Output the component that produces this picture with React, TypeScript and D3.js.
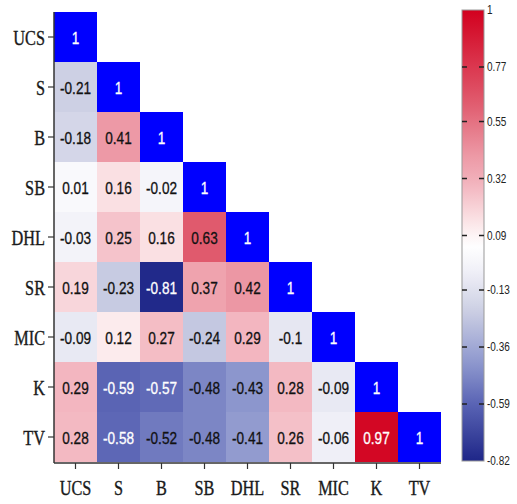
import React from "react";
import * as d3 from "d3";

const labels = ["UCS", "S", "B", "SB", "DHL", "SR", "MIC", "K", "TV"];
const rowUCS = [1];
const rowS = [-0.21, 1];
const rowB = [-0.18, 0.41, 1];
const rowSB = [0.01, 0.16, -0.02, 1];
const rowDHL = [-0.03, 0.25, 0.16, 0.63, 1];
const rowSR = [0.19, -0.23, -0.81, 0.37, 0.42, 1];
const rowMIC = [-0.09, 0.12, 0.27, -0.24, 0.29, -0.1, 1];
const rowK = [0.29, -0.59, -0.57, -0.48, -0.43, 0.28, -0.09, 1];
const rowTV = [0.28, -0.58, -0.52, -0.48, -0.41, 0.26, -0.06, 0.97, 1];
const matrix = [rowUCS, rowS, rowB, rowSB, rowDHL, rowSR, rowMIC, rowK, rowTV];
const colorbarTicks = [1, 0.77, 0.55, 0.32, 0.09, -0.13, -0.36, -0.59, -0.82];

const colorDomain = [-0.82, -0.59, -0.43, -0.21, -0.06, 0.05, 0.16, 0.3, 0.42, 0.63, 1];
const colorRange = ["#1e2688", "#5a64b4", "#8c96cd", "#cdd0e4", "#efeff7", "#ffffff", "#fae0e3", "#f2b3bd", "#ec97a4", "#e05a6d", "#d2001e"];

export default function App() {
  const left = 54, top = 12, cw = 43, ch = 50;
  const n = labels.length;
  const x = d3.scaleBand<string>().domain(labels).range([left, left + n * cw]).padding(0);
  const y = d3.scaleBand<string>().domain(labels).range([top, top + n * ch]).padding(0);
  const color = d3.scaleLinear<string>().domain(colorDomain).range(colorRange).interpolate(d3.interpolateRgb).clamp(true);
  const cbX = 462, cbW = 22, cbTop = 10, cbBot = 461;
  const cbY = d3.scaleLinear().domain([1, -0.82]).range([cbTop, cbBot]);
  const bottom = top + n * ch;
  const stops = d3.range(0, 41).map((i) => {
    const v = 1 - (i / 40) * 1.82;
    return { off: i / 40, c: color(v) };
  });
  const whiteText = (v: number, diag: boolean) => diag || v <= -0.55 || v >= 0.9;
  return (
    <svg width={517} height={504} style={{ position: "absolute", left: 0, top: 0, background: "#fff" }}>
      <defs>
        <linearGradient id="cb" x1="0" y1="0" x2="0" y2="1">
          {stops.map((s, i) => (
            <stop key={i} offset={s.off} stopColor={s.c} />
          ))}
        </linearGradient>
      </defs>
      {matrix.map((row, i) =>
        row.map((v, j) => {
          const diag = i === j;
          const cx = (x(labels[j]) as number) + cw / 2;
          const cy = (y(labels[i]) as number) + ch / 2;
          const wt = whiteText(v, diag);
          return (
            <g key={`${i}-${j}`}>
              <rect x={x(labels[j])} y={y(labels[i])} width={cw} height={ch} fill={diag ? "#0000ff" : color(v)} />
              <text
                transform={`translate(${cx},${cy + 1}) scale(0.8,1)`}
                textAnchor="middle"
                dominantBaseline="central"
                fontFamily="Liberation Sans, Arial, sans-serif"
                fontSize={17}
                fill={wt ? "#ffffff" : "#111111"}
                stroke={wt ? "#ffffff" : "#111111"}
                strokeWidth={0.3}
              >
                {String(v)}
              </text>
            </g>
          );
        })
      )}
      <line x1={left} x2={left} y1={top} y2={bottom + 1} stroke="#333" strokeWidth={1.5} />
      <line x1={left} x2={left + n * cw} y1={bottom + 1} y2={bottom + 1} stroke="#333" strokeWidth={1.5} />
      {labels.map((l) => {
        const cy = (y(l) as number) + ch / 2;
        return (
          <g key={"y" + l}>
            <line x1={left - 6} x2={left} y1={cy} y2={cy} stroke="#333" strokeWidth={1.2} />
            <text
              transform={`translate(${left - 9},${cy + 1}) scale(0.74,1)`}
              textAnchor="end"
              dominantBaseline="central"
              fontFamily="Liberation Serif, Times New Roman, serif"
              fontSize={22}
              fill="#1a1a1a"
              stroke="#1a1a1a"
              strokeWidth={0.4}
            >
              {l}
            </text>
          </g>
        );
      })}
      {labels.map((l) => {
        const cx = (x(l) as number) + cw / 2;
        return (
          <g key={"x" + l}>
            <line x1={cx} x2={cx} y1={bottom + 1} y2={bottom + 7} stroke="#333" strokeWidth={1.2} />
            <text
              transform={`translate(${cx},${bottom + 33}) scale(0.74,1)`}
              textAnchor="middle"
              fontFamily="Liberation Serif, Times New Roman, serif"
              fontSize={22}
              fill="#1a1a1a"
              stroke="#1a1a1a"
              strokeWidth={0.4}
            >
              {l}
            </text>
          </g>
        );
      })}
      <rect x={cbX} y={cbTop} width={cbW} height={cbBot - cbTop} fill="url(#cb)" stroke="#999" strokeWidth={1} />
      {colorbarTicks.map((t) => {
        const ty = cbY(t);
        const inner = t !== 1 && t !== -0.82;
        return (
          <g key={"cb" + t}>
            {inner && <line x1={cbX} x2={cbX + 5} y1={ty} y2={ty} stroke="#222" strokeWidth={1.5} />}
            {inner && <line x1={cbX + cbW - 5} x2={cbX + cbW} y1={ty} y2={ty} stroke="#222" strokeWidth={1.5} />}
            <text
              transform={`translate(${cbX + cbW + 3},${ty}) scale(0.8,1)`}
              dominantBaseline="central"
              fontFamily="Liberation Sans, Arial, sans-serif"
              fontSize={12.5}
              fill="#222"
            >
              {String(t)}
            </text>
          </g>
        );
      })}
    </svg>
  );
}
